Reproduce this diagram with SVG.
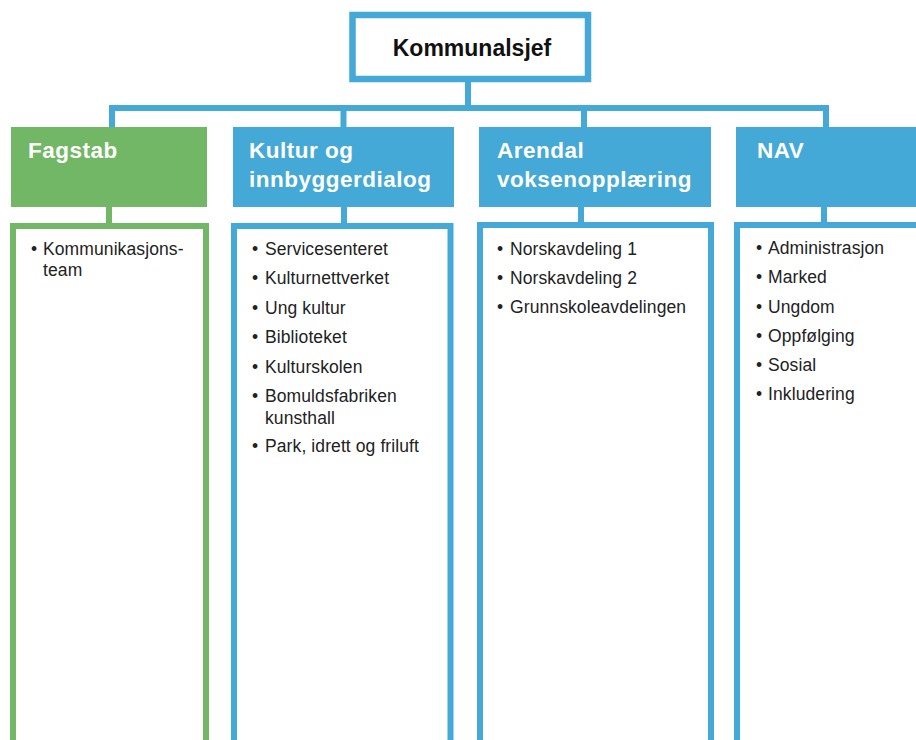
<svg xmlns="http://www.w3.org/2000/svg" width="916" height="740" viewBox="0 0 916 740">
<style>
.bl{fill:none;stroke:#44a9d6;stroke-width:6}
.gr{fill:none;stroke:#72b765;stroke-width:6}
.hb{fill:#44a9d6}
.hg{fill:#72b765}
.ht{font-family:"Liberation Sans",Arial,sans-serif;font-weight:bold;font-size:22.5px;letter-spacing:0.5px;fill:#fff}
.tt{font-family:"Liberation Sans",Arial,sans-serif;font-weight:bold;font-size:23px;fill:#111}
.li{font-family:"Liberation Sans",Arial,sans-serif;font-size:17.5px;letter-spacing:0.1px;fill:#222}
</style>
<rect width="916" height="740" fill="#fff"/>
<g id="connectors">
<path class="bl" d="M468 82V108M109 108H829M112 108V127M343.5 108V127M584 108V127M826 108V127"/>
<path class="gr" d="M109 207V223"/>
<path class="bl" d="M344 207V223M581 207V223M824 207V223"/>
</g>
<g id="kommunalsjef">
<rect x="352.5" y="15" width="235.5" height="64" fill="#fff" stroke="#44a9d6" stroke-width="6.5"/>
<text class="tt" x="472" y="56" text-anchor="middle">Kommunalsjef</text>
</g>
<g id="fagstab">
<rect class="hg" x="11" y="127" width="196" height="80"/>
<text class="ht" x="28" y="158">Fagstab</text>
</g>
<g id="fagstab-list">
<rect class="gr" x="13" y="226" width="193" height="600"/>
<text class="li" x="31" y="255">•</text>
<text class="li" x="43" y="255">Kommunikasjons-</text>
<text class="li" x="43" y="276">team</text>
</g>
<g id="kultur">
<rect class="hb" x="233" y="127" width="221" height="80"/>
<text class="ht" x="249" y="158">Kultur og</text>
<text class="ht" x="249" y="187">innbyggerdialog</text>
</g>
<g id="kultur-list">
<rect class="bl" x="234" y="226" width="216.5" height="600"/>
<g class="li">
<text x="252" y="255">•</text><text x="265" y="255">Servicesenteret</text>
<text x="252" y="284">•</text><text x="265" y="284">Kulturnettverket</text>
<text x="252" y="314">•</text><text x="265" y="314">Ung kultur</text>
<text x="252" y="343">•</text><text x="265" y="343">Biblioteket</text>
<text x="252" y="373">•</text><text x="265" y="373">Kulturskolen</text>
<text x="252" y="402">•</text><text x="265" y="402">Bomuldsfabriken</text>
<text x="265" y="424">kunsthall</text>
<text x="252" y="452">•</text><text x="265" y="452">Park, idrett og friluft</text>
</g>
</g>
<g id="arendal">
<rect class="hb" x="479" y="127" width="232" height="80"/>
<text class="ht" x="497" y="158">Arendal</text>
<text class="ht" x="497" y="187">voksenopplæring</text>
</g>
<g id="arendal-list">
<rect class="bl" x="480" y="225" width="231" height="600"/>
<g class="li">
<text x="497" y="255">•</text><text x="510" y="255">Norskavdeling 1</text>
<text x="497" y="284">•</text><text x="510" y="284">Norskavdeling 2</text>
<text x="497" y="313">•</text><text x="510" y="313">Grunnskoleavdelingen</text>
</g>
</g>
<g id="nav">
<rect class="hb" x="736" y="127" width="200" height="80"/>
<text class="ht" x="757" y="158">NAV</text>
</g>
<g id="nav-list">
<rect class="bl" x="737" y="225" width="220" height="600"/>
<g class="li">
<text x="756" y="254">•</text><text x="768" y="254">Administrasjon</text>
<text x="756" y="283">•</text><text x="768" y="283">Marked</text>
<text x="756" y="313">•</text><text x="768" y="313">Ungdom</text>
<text x="756" y="342">•</text><text x="768" y="342">Oppfølging</text>
<text x="756" y="371">•</text><text x="768" y="371">Sosial</text>
<text x="756" y="400">•</text><text x="768" y="400">Inkludering</text>
</g>
</g>
</svg>
